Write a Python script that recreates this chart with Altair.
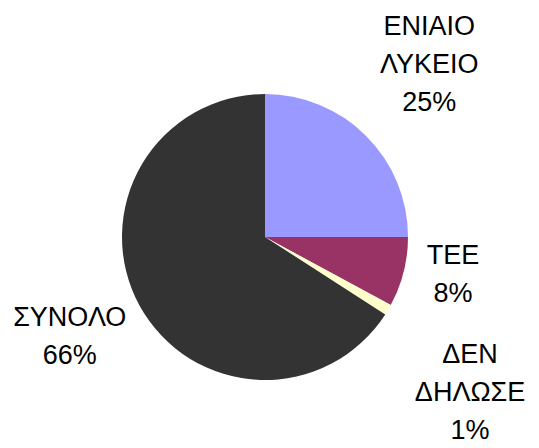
import altair as alt
import pandas as pd

categories = ["ΕΝΙΑΙΟ\nΛΥΚΕΙΟ", "ΤΕΕ", "ΔΕΝ\nΔΗΛΩΣΕ", "ΣΥΝΟΛΟ"]
values = [25.0, 7.9, 1.2, 65.9]
colors = ["#9999FF", "#993366", "#FFFFCC", "#333333"]

df = pd.DataFrame({
    "cat": categories,
    "value": values,
    "idx": list(range(len(categories))),
})

theta = alt.Theta("value:Q", stack=True)
order = alt.Order("idx:Q", sort="ascending")

pie = alt.Chart(df).mark_arc(radius=143, stroke=None).encode(
    theta=theta,
    color=alt.Color("cat:N", scale=alt.Scale(domain=categories, range=colors), legend=None),
    order=order,
)

LINE_H = 38
# label placement per slice: (radius, dx, dy) for the block centre
label_pos = {
    categories[0]: (238, -4, -4),
    categories[1]: (192, 2, -9),
    categories[2]: (258, -17, 25),
    categories[3]: (219, -3, -5),
}

layers = [pie]
for c in categories:
    r, dx, dy = label_pos[c]
    n_lines = c.count("\n") + 2
    dy_block = dy - (n_lines - 1) * LINE_H / 2
    t = alt.Chart(df).transform_calculate(
        label="datum.cat + '\\n' + format(datum.value, '.0f') + '%'"
    ).mark_text(
        radius=r, dx=dx, dy=dy_block, fontSize=27, font="Liberation Sans",
        align="center", baseline="middle", lineBreak="\n", lineHeight=LINE_H,
        color="black",
    ).encode(
        theta=theta,
        order=order,
        detail="cat:N",
        text=alt.condition(f"datum.idx == {categories.index(c)}", "label:N", alt.value("")),
    )
    layers.append(t)

chart = alt.layer(*layers).properties(
    width=514, height=406,
    autosize=alt.AutoSizeParams(type="none"),
    padding={"left": 0, "top": 26, "right": 9, "bottom": 6},
).configure_view(stroke=None)

chart.save("out.html", embed_options={"renderer": "svg", "actions": False})
